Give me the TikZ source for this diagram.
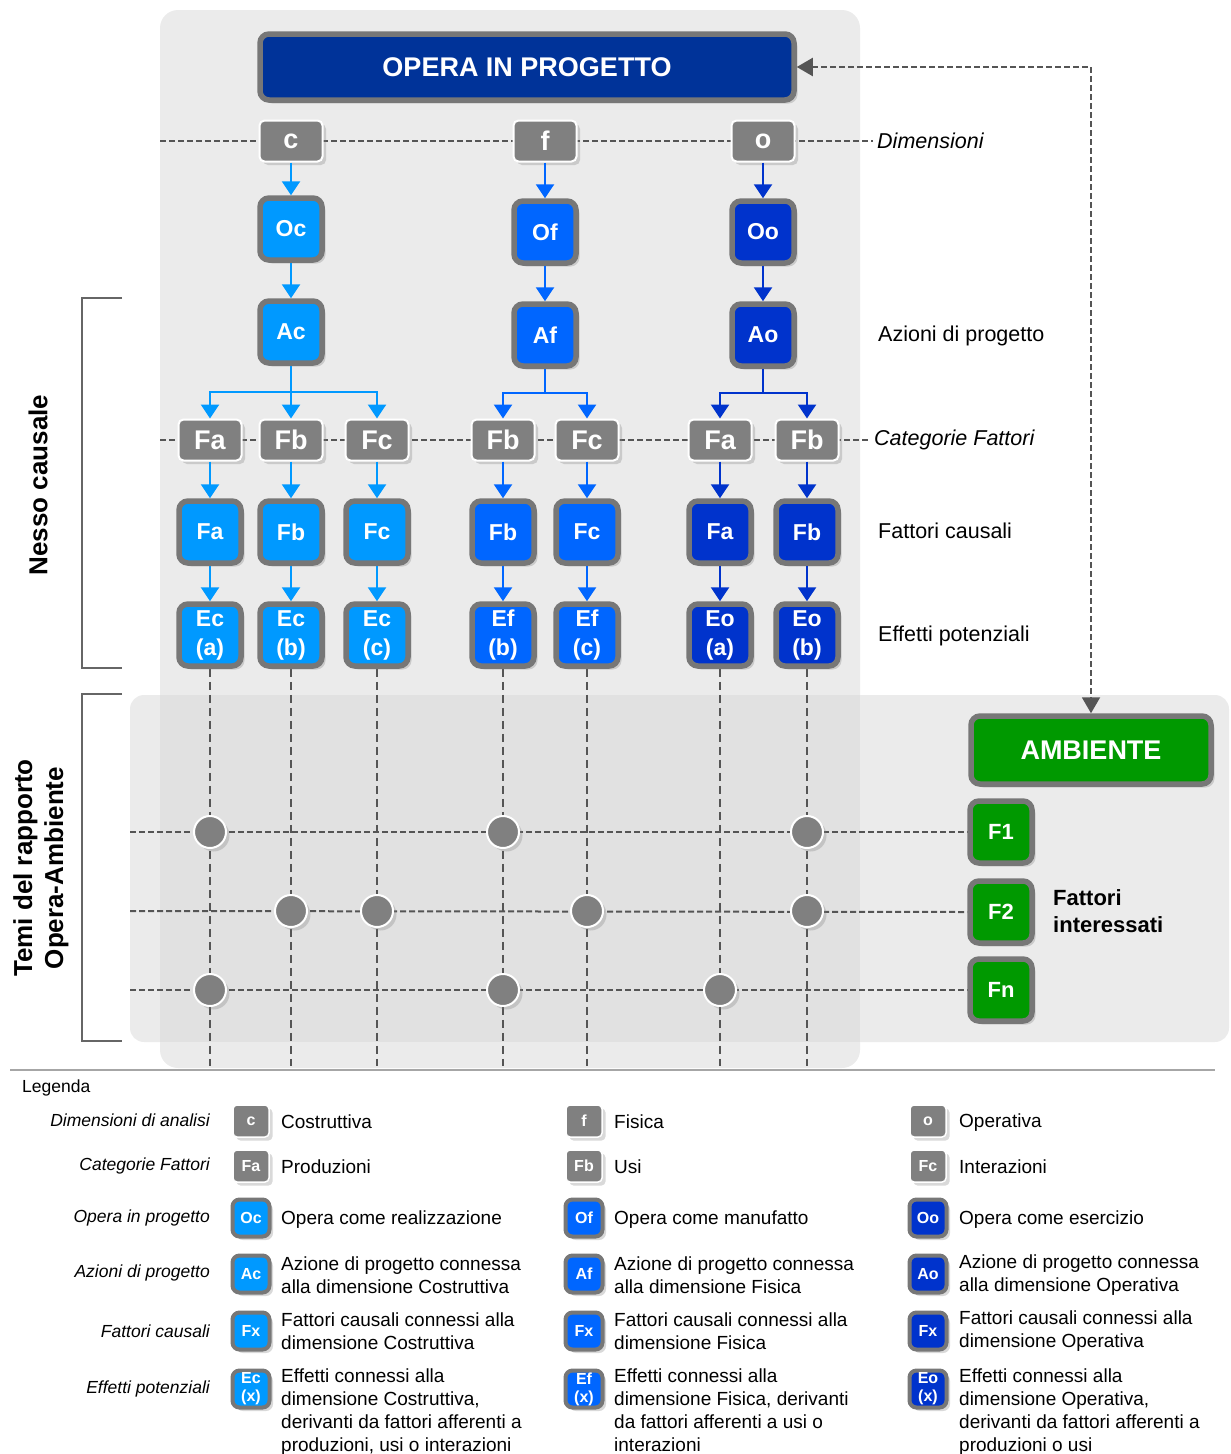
\documentclass[tikz,border=0pt]{standalone}
\usepackage{fontspec}
\setmainfont{Liberation Sans}
\usetikzlibrary{arrows.meta,shadows,calc}

\definecolor{panel}{HTML}{EBEBEB}
\definecolor{overlap}{HTML}{E1E1E1}
\definecolor{cblue}{HTML}{0099FF}
\definecolor{fblue}{HTML}{0066FF}
\definecolor{oblue}{HTML}{0033CC}
\definecolor{navy}{HTML}{003399}
\definecolor{envgreen}{HTML}{009900}
\definecolor{boxgray}{HTML}{808080}
\definecolor{rimgray}{HTML}{777777}
\definecolor{linegray}{HTML}{555555}
\definecolor{bracketgray}{HTML}{666666}

\pgfdeclarelayer{bg}
\pgfdeclarelayer{guides}
\pgfsetlayers{bg,guides,main}

\newcommand\fsz[2]{\fontsize{#1}{#2}\selectfont}

\begin{document}
\begin{tikzpicture}[x=1pt,y=-1pt,
  softshadow/.style={drop shadow={shadow xshift=3.5pt,shadow yshift=-3.5pt,opacity=.3}},
  bluebox/.style={softshadow, draw=rimgray, line width=5.5pt, rounded corners=9pt,
    text=white, font=\bfseries\fsz{23}{29}, minimum width=62pt, minimum height=62pt,
    inner sep=0pt, align=center},
  catbox/.style={softshadow, fill=boxgray, draw=white, line width=2pt, rounded corners=5pt,
    text=white, font=\bfseries\fsz{27}{30}, minimum width=63pt, minimum height=41pt, inner sep=0pt},
  arr/.style={line width=2.5pt, -{Triangle[width=18pt,length=14pt]}},
  dashline/.style={draw=linegray, line width=2pt, dash pattern=on 6pt off 3pt},
  vdash/.style={draw=linegray, line width=2pt, dash pattern=on 8pt off 5pt},
  hub/.style={softshadow, circle, fill=boxgray, draw=white, line width=2pt, minimum size=32pt, inner sep=0pt},
  sidelab/.style={anchor=west, inner sep=0pt, font=\fsz{21.5}{26}},
  bracket/.style={draw=bracketgray, line width=1.5pt},
  legsym/.style={softshadow, fill=boxgray, draw=white, line width=1.5pt, rounded corners=4pt,
    text=white, font=\bfseries\fsz{16}{18}, minimum width=36pt, minimum height=32pt, inner sep=0pt},
  legblue/.style={softshadow, draw=rimgray, line width=4pt, rounded corners=7pt,
    text=white, font=\bfseries\fsz{16}{18}, minimum width=37pt, minimum height=37pt,
    inner sep=0pt, align=center},
  legtxt/.style={anchor=west, inner sep=0pt, font=\fsz{19}{23}, align=left},
  legcap/.style={anchor=east, inner sep=0pt, font=\itshape\fsz{17.5}{21}}
]
\useasboundingbox (0,0) rectangle (1231,1454);

% ---------- background panels ----------
\begin{pgfonlayer}{bg}
  \fill[panel, rounded corners=18pt] (160,10) rectangle (860,1068);
  \fill[panel, rounded corners=14pt] (130,695) rectangle (1229,1042);
  \fill[overlap] (160,695) rectangle (860,1042);
\end{pgfonlayer}

% ---------- project block ----------
\node[bluebox, fill=navy, minimum width=534pt, minimum height=66pt, font=\bfseries\fsz{27}{30}]
  (top) at (527,67) {OPERA IN PROGETTO};

% dimensions
\node[catbox] (dc) at (291,141) {c};
\node[catbox] (df) at (545,141) {f};
\node[catbox] (do) at (763,141) {o};
\node[anchor=west, inner sep=4pt, font=\itshape\fsz{21.5}{26}] (dimlab) at (873,141) {Dimensioni};

% opera nodes
\node[bluebox, fill=cblue] (oc) at (291,229) {Oc};
\node[bluebox, fill=fblue] (of) at (545,232) {Of};
\node[bluebox, fill=oblue] (oo) at (763,232) {Oo};

% actions
\node[bluebox, fill=cblue] (ac) at (291,332) {Ac};
\node[bluebox, fill=fblue] (af) at (545,335) {Af};
\node[bluebox, fill=oblue] (ao) at (763,335) {Ao};
\node[sidelab] (azlab) at (878,336) {Azioni di progetto};

% factor categories
\node[catbox] (k1) at (210,440) {Fa};
\node[catbox] (k2) at (291,440) {Fb};
\node[catbox] (k3) at (377,440) {Fc};
\node[catbox] (k4) at (503,440) {Fb};
\node[catbox] (k5) at (587,440) {Fc};
\node[catbox] (k6) at (720,440) {Fa};
\node[catbox] (k7) at (807,440) {Fb};
\node[anchor=west, inner sep=4pt, font=\itshape\fsz{21.5}{26}] (catlab) at (870,440) {Categorie Fattori};

% causal factors
\node[bluebox, fill=cblue] (g1) at (210,532) {Fa};
\node[bluebox, fill=cblue] (g2) at (291,532) {Fb};
\node[bluebox, fill=cblue] (g3) at (377,532) {Fc};
\node[bluebox, fill=fblue] (g4) at (503,532) {Fb};
\node[bluebox, fill=fblue] (g5) at (587,532) {Fc};
\node[bluebox, fill=oblue] (g6) at (720,532) {Fa};
\node[bluebox, fill=oblue] (g7) at (807,532) {Fb};
\node[sidelab] (fclab) at (878,531) {Fattori causali};

% potential effects
\node[bluebox, fill=cblue] (e1) at (210,635) {Ec\\(a)};
\node[bluebox, fill=cblue] (e2) at (291,635) {Ec\\(b)};
\node[bluebox, fill=cblue] (e3) at (377,635) {Ec\\(c)};
\node[bluebox, fill=fblue] (e4) at (503,635) {Ef\\(b)};
\node[bluebox, fill=fblue] (e5) at (587,635) {Ef\\(c)};
\node[bluebox, fill=oblue] (e6) at (720,635) {Eo\\(a)};
\node[bluebox, fill=oblue] (e7) at (807,635) {Eo\\(b)};
\node[sidelab] (eplab) at (878,636) {Effetti potenziali};

% environment
\node[bluebox, fill=envgreen, minimum width=240pt, minimum height=68pt, font=\bfseries\fsz{27}{30}]
  (amb) at (1091,750) {AMBIENTE};
\node[bluebox, fill=envgreen, font=\bfseries\fsz{22}{26}] (f1) at (1001,832) {F1};
\node[bluebox, fill=envgreen, font=\bfseries\fsz{22}{26}] (f2) at (1001,912) {F2};
\node[bluebox, fill=envgreen, font=\bfseries\fsz{22}{26}] (fn) at (1001,990) {Fn};
\node[anchor=west, inner sep=0pt, align=left, font=\bfseries\fsz{22}{27}] (fint) at (1053,911)
  {Fattori\\interessati};

% ---------- guide lines ----------
\coordinate (dimstart) at (160,141);
\coordinate (catstart) at (160,440);
\coordinate (r1) at (130,832);
\coordinate (r2) at (130,911);
\coordinate (r3) at (130,990);
\coordinate (lowend) at (0,1066);
\begin{pgfonlayer}{guides}
  \draw[dashline] (dimstart) -- (dimlab.west);
  \draw[dashline] (catstart) -- (catlab.west);
  \draw[dashline] (r1) -- (f1.west);
  \draw[dashline] (r2) -- (f2.west);
  \draw[dashline] (r3) -- (fn.west);
  \foreach \n in {1,...,7} \draw[vdash] (e\n.south) -- (e\n.south |- lowend);
\end{pgfonlayer}

% intersections between effects and environmental factors
\node[hub] (h11) at (e1 |- f1) {};
\node[hub] (h14) at (e4 |- f1) {};
\node[hub] (h17) at (e7 |- f1) {};
\node[hub] (h22) at (e2 |- r2) {};
\node[hub] (h23) at (e3 |- r2) {};
\node[hub] (h25) at (e5 |- r2) {};
\node[hub] (h27) at (e7 |- r2) {};
\node[hub] (h31) at (e1 |- fn) {};
\node[hub] (h34) at (e4 |- fn) {};
\node[hub] (h36) at (e6 |- fn) {};

% ---------- arrows ----------
\draw[arr, cblue] (dc.south) -- (oc.north);
\draw[arr, fblue] (df.south) -- (of.north);
\draw[arr, oblue] (do.south) -- (oo.north);
\draw[arr, cblue] (oc.south) -- (ac.north);
\draw[arr, fblue] (of.south) -- (af.north);
\draw[arr, oblue] (oo.south) -- (ao.north);

\coordinate (jc) at (291,392);
\coordinate (jf) at (545,393);
\coordinate (jo) at (763,393);
\draw[cblue, line width=2.5pt] (ac.south) -- (jc);
\draw[arr, cblue] (jc) -| (k1.north);
\draw[arr, cblue] (jc) -- (k2.north);
\draw[arr, cblue] (jc) -| (k3.north);
\draw[fblue, line width=2.5pt] (af.south) -- (jf);
\draw[arr, fblue] (jf) -| (k4.north);
\draw[arr, fblue] (jf) -| (k5.north);
\draw[oblue, line width=2.5pt] (ao.south) -- (jo);
\draw[arr, oblue] (jo) -| (k6.north);
\draw[arr, oblue] (jo) -| (k7.north);

\foreach \n/\c in {1/cblue,2/cblue,3/cblue,4/fblue,5/fblue,6/oblue,7/oblue}{
  \draw[arr, \c] (k\n.south) -- (g\n.north);
  \draw[arr, \c] (g\n.south) -- (e\n.north);
}

% feedback between project and environment
\draw[dashline, {Triangle[width=18pt,length=16pt]}-{Triangle[width=18pt,length=16pt]}]
  (top.east) -- (top.east -| amb.north) -- (amb.north);

% ---------- brackets ----------
\draw[bracket] (122,298) -- (82,298) -- (82,668) -- (122,668);
\draw[bracket] (122,694) -- (82,694) -- (82,1041) -- (122,1041);
\node[rotate=90, font=\bfseries\fsz{26}{30}] (nesso) at (38,485) {Nesso causale};
\node[rotate=90, align=center, font=\bfseries\fsz{26}{31}] (temi) at (41,868)
  {Temi del rapporto\\Opera-Ambiente};

% ---------- legend ----------
\draw[draw=gray!70, line width=1.5pt] (10,1070) -- (1215,1070);
\node[anchor=west, inner sep=0pt, font=\fsz{17.5}{21}] (legtitle) at (22,1088) {Legenda};

\node[legcap] at (210,1120) {Dimensioni di analisi};
\node[legcap] at (210,1166) {Categorie Fattori};
\node[legcap] at (210,1218) {Opera in progetto};
\node[legcap] at (210,1273) {Azioni di progetto};
\node[legcap] at (210,1331) {Fattori causali};
\node[legcap] at (210,1389) {Effetti potenziali};

% column 1
\node[legsym] (lc) at (251,1121) {c};
\node[legtxt] at (281,1122) {Costruttiva};
\node[legsym] (lfa) at (251,1166) {Fa};
\node[legtxt] at (281,1167) {Produzioni};
\node[legblue, fill=cblue] (loc) at (251,1218) {Oc};
\node[legtxt] at (281,1220) {Opera come realizzazione};
\node[legblue, fill=cblue] (lac) at (251,1274) {Ac};
\node[legtxt] at (281,1275) {Azione di progetto connessa\\alla dimensione Costruttiva};
\node[legblue, fill=cblue] (lfc) at (251,1331) {Fx};
\node[legtxt] at (281,1331) {Fattori causali connessi alla\\dimensione Costruttiva};
\node[legblue, fill=cblue] (lec) at (251,1389) {Ec\\(x)};
\node[legtxt, anchor=north west] at (281,1369) {Effetti connessi alla\\dimensione Costruttiva,\\derivanti da fattori afferenti a\\produzioni, usi o interazioni};

% column 2
\node[legsym] (lf) at (584,1121) {f};
\node[legtxt] at (614,1122) {Fisica};
\node[legsym] (lfb) at (584,1166) {Fb};
\node[legtxt] at (614,1167) {Usi};
\node[legblue, fill=fblue] (lof) at (584,1218) {Of};
\node[legtxt] at (614,1220) {Opera come manufatto};
\node[legblue, fill=fblue] (laf) at (584,1274) {Af};
\node[legtxt] at (614,1275) {Azione di progetto connessa\\alla dimensione Fisica};
\node[legblue, fill=fblue] (lff) at (584,1331) {Fx};
\node[legtxt] at (614,1331) {Fattori causali connessi alla\\dimensione Fisica};
\node[legblue, fill=fblue] (lef) at (584,1389) {Ef\\(x)};
\node[legtxt, anchor=north west] at (614,1369) {Effetti connessi alla\\dimensione Fisica, derivanti\\da fattori afferenti a usi o\\interazioni};

% column 3
\node[legsym] (lo) at (928,1121) {o};
\node[legtxt] at (959,1123) {Operativa};
\node[legsym] (lfc3) at (928,1166) {Fc};
\node[legtxt] at (959,1167) {Interazioni};
\node[legblue, fill=oblue] (loo) at (928,1218) {Oo};
\node[legtxt] at (959,1220) {Opera come esercizio};
\node[legblue, fill=oblue] (lao) at (928,1274) {Ao};
\node[legtxt] at (959,1275) {Azione di progetto connessa\\alla dimensione Operativa};
\node[legblue, fill=oblue] (lfo) at (928,1331) {Fx};
\node[legtxt] at (959,1331) {Fattori causali connessi alla\\dimensione Operativa};
\node[legblue, fill=oblue] (leo) at (928,1389) {Eo\\(x)};
\node[legtxt, anchor=north west] at (959,1369) {Effetti connessi alla\\dimensione Operativa,\\derivanti da fattori afferenti a\\produzioni o usi};
\end{tikzpicture}
\end{document}
